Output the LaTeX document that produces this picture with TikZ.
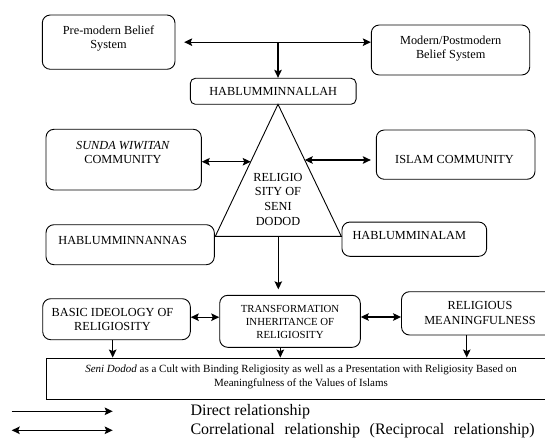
\documentclass[tikz,border=0pt]{standalone}
\usepackage{fontspec}
\setmainfont{Liberation Serif}
\usetikzlibrary{arrows.meta,calc}
\begin{document}
\begin{tikzpicture}[x=1pt,y=-1pt,
  box/.style={draw, line width=0.9pt, rounded corners=8pt, inner sep=0pt},
  sqbox/.style={draw, line width=0.9pt, inner sep=0pt},
  txt/.style={inner sep=0pt, align=center, font=\fontsize{12.3}{14}\selectfont},
  ah/.tip={Stealth[length=8pt,width=7.5pt,inset=1.5pt]},
  arr/.style={-ah, line width=1.2pt},
  darr/.style={ah-ah, line width=1.2pt}]
\useasboundingbox (0,0) rectangle (545,438);
\clip (0,0) rectangle (545,438);

% top row
\node[box, minimum width=132.7pt, minimum height=54.3pt] (pre) at (108.65,42.15) {};
\node[txt] (pret) at (108.5,38.7) {Pre-modern Belief\\System};
\node[box, minimum width=158.4pt, minimum height=50pt] (mod) at (450.5,50) {};
\node[txt] (modt) at (450.7,48.3) {Modern/Postmodern\\Belief System};
\node[box, rounded corners=5pt, minimum width=165.7pt, minimum height=26pt, font=\fontsize{12.3}{14}\selectfont] (allah) at (273.2,91.3) {HABLUMMINNALLAH};

% middle
\node[box, minimum width=155.3pt, minimum height=60.7pt] (sunda) at (123.65,159.65) {};
\node[txt] (sundat) at (123,152.8) {\textit{SUNDA WIWITAN}\\COMMUNITY};
\node[box, minimum width=158.7pt, minimum height=49.3pt] (islam) at (455.65,154.65) {};
\node[txt] (islamt) at (454.5,159.3) {ISLAM COMMUNITY};
\node[box, minimum width=168.3pt, minimum height=40pt] (nannas) at (130.15,244.7) {};
\node[txt] (nannast) at (122.7,240.7) {HABLUMMINNANNAS};
\node[box, minimum width=144.7pt, minimum height=34.3pt] (alam) at (414.3,239.2) {};
\node[txt] (alamt) at (409.3,235.3) {HABLUMMINALAM};

% triangle
\coordinate (apex) at (278,104.3);
\coordinate (bl) at (215.3,236.3);
\coordinate (br) at (341.3,236.3);
\draw[line width=0.9pt] (apex) -- (bl) -- (br) -- cycle;
\node[txt, font=\fontsize{12.3}{14.7}\selectfont] (rel) at (278,199.3) {RELIGIO\\SITY OF\\SENI\\DODOD};

% lower row
\node[box, minimum width=147.6pt, minimum height=41pt] (basic) at (116.5,319.2) {};
\node[txt] (basict) at (112.5,319.3) {BASIC IDEOLOGY OF\\RELIGIOSITY};
\node[box, minimum width=140.6pt, minimum height=52pt] (trans) at (290,321.3) {};
\node[txt, font=\fontsize{10.8}{13}\selectfont] (transt) at (290,321.7) {TRANSFORMATION\\INHERITANCE OF\\RELIGIOSITY};
\node[box, minimum width=156.5pt, minimum height=43.3pt] (relig) at (479.75,313.35) {};
\node[txt, font=\fontsize{12.3}{15}\selectfont] (religt) at (480,312.5) {RELIGIOUS\\MEANINGFULNESS};
\node[sqbox, minimum width=509pt, minimum height=41.7pt] (bottom) at (300.5,378.85) {};
\node[txt, font=\fontsize{11}{14}\selectfont] (bottomt) at (301,376.7) {\textit{Seni Dodod} as a Cult with Binding Religiosity as well as a Presentation with Religiosity Based on\\Meaningfulness of the Values of Islams};

% connectors
\coordinate (hm) at (278,42.15);
\draw[darr] ([xshift=8.7pt]pre.east) -- (pre.east -| mod.west);
\draw[arr] (hm) -- (hm |- allah.north);

\coordinate (tl) at ($(apex)!0.435!(bl)$);
\coordinate (tr) at ($(apex)!0.422!(br)$);
\draw[darr] (sunda.east |- tl) -- (tl);
\draw[darr, shorten >=5pt] (tr) -- (islam.west |- tr);

\coordinate (bm) at ($(bl)!0.5!(br)$);
\draw[arr, shorten >=5.5pt] (bm) -- (bm |- trans.north);

\coordinate (be) at ([yshift=2pt]basic.east);
\draw[darr] (be) -- (be -| trans.west);
\coordinate (te) at ([yshift=4.3pt]trans.east);
\draw[darr] (te) -- (te -| relig.west);

\coordinate (bs) at ([xshift=-3.8pt]basic.south);
\draw[arr] (bs) -- (bs |- bottom.north);
\coordinate (ts) at ([xshift=-9.7pt]trans.south);
\draw[arr] (ts) -- (ts |- bottom.north);
\coordinate (rs) at ([xshift=-13pt]relig.south);
\draw[arr] (rs) -- (rs |- bottom.north);

% legend
\coordinate (l1a) at (11.7,411.3);
\coordinate (l1b) at (112.7,411.3);
\draw[arr] (l1a) -- (l1b);
\coordinate (l2a) at (11.7,430.3);
\coordinate (l2b) at (112.7,430.3);
\draw[darr] (l2a) -- (l2b);
\node[anchor=west, inner sep=0pt, font=\fontsize{16}{18}\selectfont] (leg1) at (190.3,411.3) {Direct relationship};
\node[anchor=west, inner sep=0pt, font=\fontsize{16}{18}\selectfont] (leg2) at (190.3,430.3) {\spaceskip=0.6em Correlational relationship (Reciprocal relationship)};
\end{tikzpicture}
\end{document}
